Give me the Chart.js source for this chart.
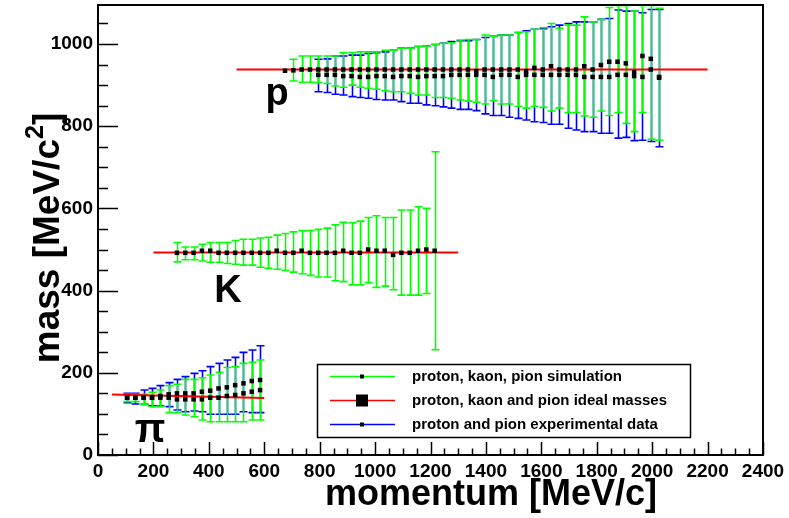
<!DOCTYPE html>
<html>
<head>
<meta charset="utf-8">
<script src="https://cdn.jsdelivr.net/npm/chart.js@4.4.1/dist/chart.umd.min.js"></script>
<style>
html,body{margin:0;padding:0;background:#ffffff;}
#wrap{width:789px;height:518px;}
</style>
</head>
<body>
<div id="wrap"><canvas id="c" width="789" height="518"></canvas></div>
<script>
// ---------- tick labels ----------
const xTickLabels = [0,200,400,600,800,1000,1200,1400,1600,1800,2000,2200,2400];
const yTickLabels = [0,200,400,600,800,1000];

// ---------- proton simulation ----------
const protonSimMomentum = [675,705,735,765,795,825,855,885,915,945,975,1005,1035,1065,1095,1125,1155,1185,1215,1245,1275,1305,1335,1365,1395,1425,1455,1485,1515,1545,1575,1605,1635,1665,1695,1725,1755,1785,1815,1845,1875,1905,1935,1965,1995,2025];
const protonSimMass = [935,936,938,938,938,938,938,938,938,938,938,938,938,938,938,938,938,938,938,938,938,938,938,934,938,938,938,938,938,934,942,938,946,938,938,938,946,938,949,957,957,953,931,971,964,920];
const protonSimHigh = [935,963,971,971,971,971,971,979,979,981,981,981,985,985,990,990,994,995,999,1002,1003,1010,1011,1011,1022,1019,1022,1022,1028,1030,1036,1036,1050,1038,1046,1046,1066,1054,1060,1089,1094,1094,1080,1094,1094,1087];
const protonSimLow = [935,910,907,907,906,904,898,895,900,895,892,890,886,884,884,880,876,876,870,870,868,864,861,858,854,862,854,854,848,844,848,846,837,844,833,833,825,822,837,826,833,807,787,833,768,766];

// ---------- proton experimental ----------
const protonExpMomentum = [795,825,855,885,915,945,975,1005,1035,1065,1095,1125,1155,1185,1215,1245,1275,1305,1335,1365,1395,1425,1455,1485,1515,1545,1575,1605,1635,1665,1695,1725,1755,1785,1815,1845,1875,1905,1935,1965,1995,2025];
const protonExpMass = [925,925,925,922,922,920,920,922,922,920,922,922,920,922,922,922,925,925,925,925,925,920,925,925,920,925,925,925,925,925,925,925,920,920,920,920,925,925,922,920,938,918];
const protonExpHigh = [963,964,971,971,973,973,977,979,981,985,990,990,994,995,999,1002,1006,1008,1008,1011,1016,1019,1022,1022,1028,1032,1036,1038,1042,1046,1050,1054,1054,1054,1060,1062,1083,1080,1080,1076,1084,1084];
const protonExpLow = [884,882,878,876,872,870,868,865,864,864,860,856,856,852,850,847,844,841,841,838,830,826,826,822,819,815,811,809,805,805,795,791,787,787,783,783,771,773,765,766,763,750];

// ---------- kaon simulation ----------
const kaonMomentum = [285,315,345,375,405,435,465,495,525,555,585,615,645,675,705,735,765,795,825,855,885,915,945,975,1005,1035,1065,1095,1125,1155,1185,1215];
const kaonMass = [492,492,492,497,497,492,492,492,492,492,492,492,497,492,492,497,492,492,492,492,497,492,492,500,497,497,487,492,492,497,500,497];
const kaonHigh = [517,506,506,513,517,517,517,522,525,525,528,530,535,539,543,546,546,549,552,560,566,565,569,578,582,578,578,596,596,604,600,738];
const kaonLow = [470,475,475,472,469,469,466,464,462,462,457,454,452,449,445,441,437,433,433,424,422,414,414,419,408,411,402,389,389,389,393,256];

// ---------- pion simulation / experimental ----------
const pionMomentum = [105,135,165,195,225,255,285,315,345,375,405,435,465,495,525,555,585];
const pionSimMass = [139.5,139.5,139.5,139.5,139.5,139.5,135.4,135.4,135.4,135.4,139.5,139.5,143.6,146,150,154,158];
const pionSimHigh = [147.6,147.6,147.6,152.5,158,168.7,172,184,184,188,194.6,201,213,215,223,225.5,231];
const pionSimLow = [129.8,129.8,123.3,117.6,117.6,103,103,97.3,93.3,85,81,81,81,81,81,85,85];
const pionExpMass = [139.5,139.5,139.5,139.5,143.6,147.6,150,150,150,154,156.5,162,164.6,170,174.4,180,182.5];
const pionExpHigh = [150,150,158,162,168.7,176,184,190.6,198.7,205,215,223,231,237.6,249.8,255.5,266];
const pionExpLow = [127.3,124,123.3,120,119,117.6,109.5,105.4,107,105.4,99,99,99,99,105.4,103,103];

// ---------- ideal masses (red lines) ----------
const protonIdealMomentum = [500,2200];
const protonIdealMass = [938,938];
const kaonIdealMomentum = [200,1300];
const kaonIdealMass = [493,493];
const pionIdealMomentum = [50,600];
const pionIdealMass = [147,139];

// ---------- legend texts ----------
const legendLabels = ['proton, kaon, pion simulation','proton, kaon and pion ideal masses','proton and pion experimental data'];

const FONT = "'Liberation Sans', Arial, Helvetica, sans-serif";
const GREEN = '#00ff00', BLUE = '#0000ff', RED = '#ff0000';

function pts(xs, ys){ return xs.map((x,i)=>({x:x, y:ys[i]})); }

const marker = {showLine:false, pointStyle:'rect', pointRadius:3.2, pointHoverRadius:3.2,
  backgroundColor:'#000', borderColor:'#000', borderWidth:0};
const idealLine = {showLine:true, pointRadius:0, pointHoverRadius:0, borderColor:RED, borderWidth:2, backgroundColor:RED, fill:false};

const errorBarPlugin = {
  id:'errbars',
  beforeDatasetsDraw(chart){
    const ctx = chart.ctx, a = chart.chartArea, xs = chart.scales.x, ys = chart.scales.y;
    ctx.save();
    ctx.beginPath(); ctx.rect(a.left, a.top, a.right-a.left, a.bottom-a.top); ctx.clip();
    const sets = chart.data.datasets.filter(d=>d.errHigh).sort((p,q)=>p.errLayer-q.errLayer);
    sets.forEach(ds=>{
      ctx.strokeStyle = ds.errColor; ctx.lineWidth = 1.6;
      ds.data.forEach((p,i)=>{
        const hi = ds.errHigh[i], lo = ds.errLow[i];
        if (hi === lo) return;
        const px = Math.round(xs.getPixelForValue(p.x)) + 0.5;
        const y1 = ys.getPixelForValue(hi), y2 = ys.getPixelForValue(lo);
        ctx.beginPath();
        ctx.moveTo(px, y1); ctx.lineTo(px, y2);
        ctx.moveTo(px-4, y1); ctx.lineTo(px+4, y1);
        ctx.moveTo(px-4, y2); ctx.lineTo(px+4, y2);
        ctx.stroke();
      });
    });
    ctx.restore();
  }
};

const framePlugin = {
  id:'frame',
  afterDatasetsDraw(chart){
    const ctx = chart.ctx, a = chart.chartArea, xs = chart.scales.x, ys = chart.scales.y;
    ctx.save();
    ctx.strokeStyle = '#000';
    ctx.lineWidth = 1.5;
    ctx.beginPath();
    for (let v = 0; v <= ys.max; v += 50) {
      const py = Math.round(ys.getPixelForValue(v)) + 0.5;
      const len = (v % 200 === 0) ? 20 : 10;
      ctx.moveTo(a.left, py); ctx.lineTo(a.left + len, py);
    }
    for (let v = 0; v <= xs.max; v += 50) {
      const px = Math.round(xs.getPixelForValue(v)) + 0.5;
      const len = (v % 200 === 0) ? 13 : 6.5;
      ctx.moveTo(px, a.bottom); ctx.lineTo(px, a.bottom - len);
    }
    ctx.stroke();
    ctx.lineWidth = 2;
    ctx.strokeRect(a.left, a.top, a.right - a.left, a.bottom - a.top);
    ctx.restore();
  },
  afterDraw(chart){
    const ctx = chart.ctx, xs = chart.scales.x, ys = chart.scales.y;
    ctx.save();
    // particle labels
    ctx.fillStyle = '#000';
    ctx.textAlign = 'center'; ctx.textBaseline = 'alphabetic';
    ctx.font = 'bold 38px ' + FONT;
    ctx.fillText('p', xs.getPixelForValue(646), ys.getPixelForValue(852));
    ctx.fillText('K', xs.getPixelForValue(469), ys.getPixelForValue(372));
    ctx.font = 'bold 40px ' + FONT;
    ctx.fillText('π', xs.getPixelForValue(188), ys.getPixelForValue(32));

    // legend
    const bx = 317, by = 364, bw = 373, bh = 73;
    ctx.fillStyle = '#fff';
    ctx.fillRect(bx, by, bw, bh);
    ctx.strokeStyle = '#000'; ctx.lineWidth = 1.5;
    ctx.strokeRect(bx + 0.5, by + 0.5, bw, bh);
    const rows = [by + 12, by + 36, by + 60];
    const cols = [GREEN, RED, BLUE];
    ctx.font = 'bold 15px ' + FONT;
    ctx.textAlign = 'left'; ctx.textBaseline = 'middle';
    rows.forEach((ry, i) => {
      ctx.strokeStyle = cols[i]; ctx.lineWidth = 1.5;
      ctx.beginPath(); ctx.moveTo(330, ry + 0.5); ctx.lineTo(395, ry + 0.5); ctx.stroke();
      ctx.fillStyle = '#000';
      const s = (i === 1) ? 12 : 4;
      ctx.fillRect(362 - s/2, ry + 0.5 - s/2, s, s);
      ctx.fillText(legendLabels[i], 412, ry + 1);
    });

    // x-axis title
    ctx.font = 'bold 36px ' + FONT;
    ctx.textAlign = 'center'; ctx.textBaseline = 'alphabetic';
    ctx.fillText('momentum [MeV/c]', 491, 505);

    // y-axis title (rotated, with superscript)
    ctx.translate(59, 238);
    ctx.rotate(-Math.PI / 2);
    ctx.textAlign = 'left';
    const t1 = 'mass [MeV/c', t3 = ']';
    ctx.font = 'bold 37px ' + FONT;
    const w1 = ctx.measureText(t1).width, w3 = ctx.measureText(t3).width;
    ctx.font = 'bold 25px ' + FONT;
    const w2 = ctx.measureText('2').width;
    const start = -(w1 + w2 + w3) / 2;
    ctx.font = 'bold 37px ' + FONT;
    ctx.fillText(t1, start, 0);
    ctx.fillText(t3, start + w1 + w2, 0);
    ctx.font = 'bold 25px ' + FONT;
    ctx.fillText('2', start + w1, -16);
    ctx.restore();
  }
};

new Chart(document.getElementById('c'), {
  type: 'scatter',
  data: {
    datasets: [
      Object.assign({label:'proton sim', data: pts(protonSimMomentum, protonSimMass), errHigh: protonSimHigh, errLow: protonSimLow, errColor: GREEN, errLayer: 2}, marker),
      Object.assign({label:'proton exp', data: pts(protonExpMomentum, protonExpMass), errHigh: protonExpHigh, errLow: protonExpLow, errColor: BLUE, errLayer: 1}, marker),
      Object.assign({label:'kaon sim', data: pts(kaonMomentum, kaonMass), errHigh: kaonHigh, errLow: kaonLow, errColor: GREEN, errLayer: 2}, marker),
      Object.assign({label:'pion sim', data: pts(pionMomentum, pionSimMass), errHigh: pionSimHigh, errLow: pionSimLow, errColor: GREEN, errLayer: 2}, marker),
      Object.assign({label:'pion exp', data: pts(pionMomentum, pionExpMass), errHigh: pionExpHigh, errLow: pionExpLow, errColor: BLUE, errLayer: 1}, marker),
      Object.assign({label:'proton ideal', data: pts(protonIdealMomentum, protonIdealMass)}, idealLine),
      Object.assign({label:'kaon ideal', data: pts(kaonIdealMomentum, kaonIdealMass)}, idealLine),
      Object.assign({label:'pion ideal', data: pts(pionIdealMomentum, pionIdealMass)}, idealLine)
    ]
  },
  options: {
    responsive: false,
    animation: false,
    devicePixelRatio: 1,
    layout: {padding: {left: 0, right: 26, top: 5, bottom: 0}},
    plugins: {legend: {display: false}, tooltip: {enabled: false}},
    scales: {
      x: {
        type: 'linear', min: 0, max: 2400,
        grid: {display: false, drawTicks: false},
        border: {display: false},
        afterBuildTicks: s => { s.ticks = xTickLabels.map(v => ({value: v})); },
        afterFit: s => { s.height = 63; s.paddingLeft = 0; s.paddingRight = 0; },
        ticks: {font: {family: FONT, weight: 'bold', size: 19}, color: '#000', padding: 5, maxRotation: 0, autoSkip: false,
                callback: v => String(v)}
      },
      y: {
        type: 'linear', min: 0, max: 1095,
        grid: {display: false, drawTicks: false},
        border: {display: false},
        afterBuildTicks: s => { s.ticks = yTickLabels.map(v => ({value: v})); },
        afterFit: s => { s.width = 98; s.paddingTop = 0; s.paddingBottom = 0; },
        ticks: {font: {family: FONT, weight: 'bold', size: 19}, color: '#000', padding: 5, autoSkip: false,
                callback: v => String(v)}
      }
    }
  },
  plugins: [errorBarPlugin, framePlugin]
});
</script>
</body>
</html>
